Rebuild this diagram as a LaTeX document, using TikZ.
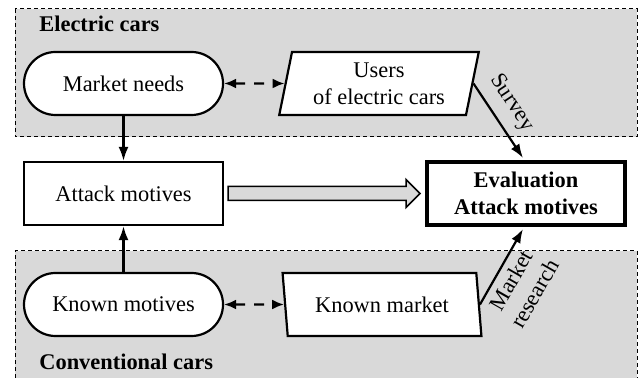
\documentclass[tikz,border=0pt]{standalone}
\usepackage{fontspec}
\setmainfont{Liberation Serif}
\usetikzlibrary{arrows.meta,calc,shapes.geometric}
\definecolor{bggray}{RGB}{217,217,217}
\begin{document}
\begin{tikzpicture}[x=0.5pt,y=-0.5pt,
  every node/.style={font=\fontsize{11.2}{13.5}\selectfont},
  region/.style={draw, dash pattern=on 2pt off 1.5pt, line width=0.5pt},
  pill/.style={draw, fill=white, line width=1.1pt, rounded corners=15.75pt, minimum width=99.5pt, minimum height=31.5pt, inner sep=0pt},
  box/.style={draw, fill=white, line width=1.1pt, minimum width=99.5pt, minimum height=31.5pt},
  para/.style={draw, fill=white, line width=1.1pt, trapezium, trapezium stretches=true, minimum width=100pt, minimum height=31.5pt, inner sep=0pt, align=center},
  conn/.style={line width=1.1pt, -{Latex[length=7pt,width=5pt]}},
  dconn/.style={line width=1.1pt, dash pattern=on 5pt off 4.5pt, {Latex[length=6pt,width=5pt]}-{Latex[length=6pt,width=5pt]}},
  lbl/.style={font=\fontsize{11.2}{13.5}\selectfont\bfseries, inner sep=0pt, anchor=base west},
  evalbox/.style={draw, fill=white, line width=2pt, minimum width=99pt, minimum height=31.5pt, align=center, font=\fontsize{11.2}{13.5}\selectfont\bfseries},
  hollow/.style={fill=bggray, draw, line width=0.75pt},
]
\useasboundingbox (0,0) rectangle (641,378);
% regions
\fill[bggray] (15,9) rectangle (637,137);
\draw[region] (15,9) rectangle (637,137);
\fill[bggray] (15,251) rectangle (637,378);
\draw[region] (15,378) -- (15,251) -- (637,251) -- (637,378);
\node[lbl] (lblE) at (39,32) {Electric cars};
\node[lbl] (lblC) at (39,370) {Conventional cars};
% nodes
\node[pill] (mneeds) at (123.5,83.5) {Market needs};
\node[para, trapezium left angle=77, trapezium right angle=103] (users) at (379,83.5) {Users\\of electric cars};
\node[box] (attack) at (123.5,193.5) {Attack motives};
\node[evalbox] (eval) at (526,193.5) {Evaluation\\Attack motives};
\node[pill] (kmot) at (123.5,304.5) {Known motives};
\node[para, trapezium left angle=103, trapezium right angle=77] (kmarket) at (382,304.5) {Known market};
% connectors
\draw[conn] (mneeds) -- (attack);
\draw[conn] (kmot) -- (attack);
\draw[dconn] (mneeds) -- (users);
\draw[dconn] (kmot) -- (kmarket);
\draw[conn] (users.east) -- ($(eval.north)+(-3,-2)$) node[pos=0.42, sloped, above, inner sep=5pt] {Survey};
\draw[conn] (kmarket.east) -- ($(eval.south)+(-3,2)$) node[pos=0.42, sloped, below, align=center, inner sep=3pt] {Market\\research};
\draw[hollow] ($(attack.east)+(4,-7)$) -- ($(eval.west)+(-19,-7)$) -- ($(eval.west)+(-19,-14)$) -- ($(eval.west)+(-5,0)$) -- ($(eval.west)+(-19,14)$) -- ($(eval.west)+(-19,7)$) -- ($(attack.east)+(4,7)$) -- cycle;
\end{tikzpicture}
\end{document}
